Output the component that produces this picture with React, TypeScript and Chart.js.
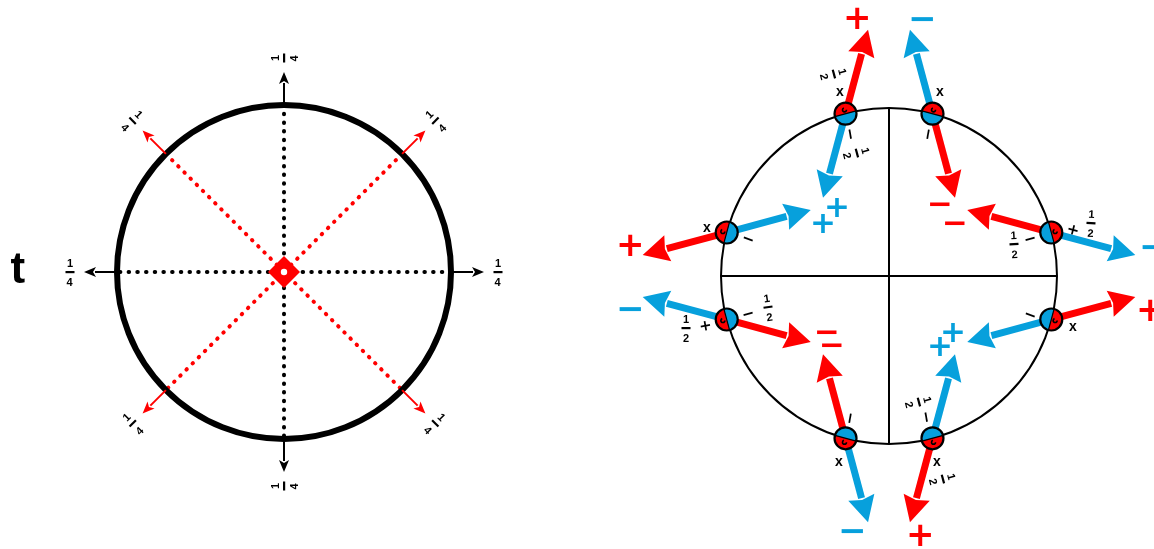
import { useEffect, useRef } from "react";
import { Chart, registerables } from "chart.js";

Chart.register(...registerables);

const CANVAS_W = 1154;
const CANVAS_H = 549;

// ---------------- Left panel data ----------------
const leftCenterX = 284;
const leftCenterY = 272;
const leftRadius = 167;
const leftDirections = [0, 45, 90, 135, 180, 225, 270, 315];
const leftIsDiagonal = [false, true, false, true, false, true, false, true];
const leftNumerators = ["1", "1", "1", "1", "1", "1", "1", "1"];
const leftDenominators = ["4", "4", "4", "4", "4", "4", "4", "4"];
const leftLabelTurns = [0, -45, -90, 45, 0, -45, -90, 45];
const leftArrowReach = 200;
const leftLabelReach = 214;
const panelLetter = "t";
const panelLetterPos = [18, 268];

// ---------------- Right panel data ----------------
const rightCenterX = 889;
const rightCenterY = 276;
const rightRadius = 168;
const spinAngles = [105, 75, 15, -15, -75, -105, 195, 165];
const redPointsOut = [true, false, false, true, true, false, false, true];
const spinArrowReach = 87;

// outer signs at the outward arrow tips
const outerSignText = ["+", "−", "−", "+", "+", "−", "−", "+"];
const outerSignColor = ["red", "blue", "blue", "red", "red", "blue", "blue", "red"];
const outerSignX = [857, 922, 1153, 1150, 920, 852, 630, 630];
const outerSignY = [18, 19, 247, 310, 535, 531, 309, 245];

// inner signs near the inward arrow tips
const innerSignText = ["+", "+", "+", "+", "−", "−", "−", "−"];
const innerSignColor = ["blue", "blue", "blue", "blue", "red", "red", "red", "red"];
const innerSignX = [837, 823, 953, 940, 940, 955, 827, 832];
const innerSignY = [207, 223, 332, 346, 204, 223, 332, 345];

// small black notations beside the spin circles
const noteText = ["x", "−", "x", "−", "+", "−", "−", "x", "−", "x", "−", "x", "+", "−", "x", "−"];
const noteX = [840, 850, 940, 928, 1073, 1030, 1030, 1073, 926, 937, 850, 839, 705, 748, 707, 748];
const noteY = [92, 134, 92, 134, 229, 239, 315, 327, 417, 462, 418, 462, 325, 314, 228, 239];
const noteTurn = [0, 80, 0, 100, 15, -15, 20, 0, 80, 0, 100, 0, -10, -15, 0, 20];

// one-half fractions beside the spin circles
const halfX = [834, 857, 1091, 1014, 919, 943, 686, 768];
const halfY = [74, 153, 223, 244, 402, 479, 328, 307];
const halfTurn = [75, 75, 3, -3, 75, 75, 0, -8];

const COLORS: Record<string, string> = {
  red: "#ff0000",
  blue: "#07a0dc",
  black: "#000000",
};

const rad = (d: number) => (d * Math.PI) / 180;

function drawCentered(
  ctx: CanvasRenderingContext2D,
  text: string,
  x: number,
  y: number,
  font: string,
  color: string,
  turnDeg = 0
) {
  ctx.save();
  ctx.translate(x, y);
  if (turnDeg) ctx.rotate(rad(turnDeg));
  ctx.font = font;
  ctx.fillStyle = color;
  ctx.textAlign = "left";
  ctx.textBaseline = "alphabetic";
  const m = ctx.measureText(text);
  const dx = -(m.actualBoundingBoxRight - m.actualBoundingBoxLeft) / 2;
  const dy = (m.actualBoundingBoxAscent - m.actualBoundingBoxDescent) / 2;
  ctx.fillText(text, dx, dy);
  ctx.restore();
}

function drawFraction(
  ctx: CanvasRenderingContext2D,
  num: string,
  den: string,
  x: number,
  y: number,
  turnDeg: number
) {
  ctx.save();
  ctx.translate(x, y);
  ctx.rotate(rad(turnDeg));
  const font = 'bold 11px "Liberation Sans", Arial, sans-serif';
  drawCentered(ctx, num, 0, -9, font, "#000");
  ctx.fillStyle = "#000";
  ctx.fillRect(-4.5, -1, 9, 2.2);
  drawCentered(ctx, den, 0, 10, font, "#000");
  ctx.restore();
}

function drawArrow(
  ctx: CanvasRenderingContext2D,
  x0: number,
  y0: number,
  x1: number,
  y1: number,
  color: string,
  shaft: number,
  headLen: number,
  headW: number
) {
  const ang = Math.atan2(y1 - y0, x1 - x0);
  const len = Math.hypot(x1 - x0, y1 - y0);
  ctx.save();
  ctx.translate(x0, y0);
  ctx.rotate(ang);
  ctx.fillStyle = color;
  ctx.fillRect(0, -shaft / 2, len - headLen + 1, shaft);
  ctx.beginPath();
  ctx.moveTo(len, 0);
  ctx.lineTo(len - headLen, -headW / 2);
  ctx.lineTo(len - headLen + 3, 0);
  ctx.lineTo(len - headLen, headW / 2);
  ctx.closePath();
  ctx.fill();
  ctx.restore();
}

// data point at a given angle (degrees, counter-clockwise) and distance from a centre
function polar(cx: number, cy: number, r: number, deg: number) {
  return { x: cx + r * Math.cos(rad(deg)), y: cy - r * Math.sin(rad(deg)) };
}

export default function App() {
  const canvasRef = useRef<HTMLCanvasElement | null>(null);

  useEffect(() => {
    const canvas = canvasRef.current;
    if (!canvas) return;

    const dotted = (deg: number, color: string) => ({
      type: "line" as const,
      data: [
        polar(leftCenterX, leftCenterY, leftRadius, deg),
        polar(leftCenterX, leftCenterY, leftRadius, deg + 180),
      ],
      borderColor: color,
      borderWidth: 4,
      borderDash: [0.5, 8.2],
      borderCapStyle: "round" as const,
      pointRadius: 0,
      showLine: true,
      fill: false,
    });

    const solid = (deg: number) => ({
      type: "line" as const,
      data: [
        polar(rightCenterX, rightCenterY, rightRadius, deg),
        polar(rightCenterX, rightCenterY, rightRadius, deg + 180),
      ],
      borderColor: "#000",
      borderWidth: 2,
      pointRadius: 0,
      showLine: true,
      fill: false,
    });

    const datasets: any[] = [];
    leftDirections.slice(0, 4).forEach((d, i) => {
      datasets.push(dotted(d, leftIsDiagonal[i] ? COLORS.red : COLORS.black));
    });
    datasets.push(solid(0));
    datasets.push(solid(90));

    const diagramPlugin = {
      id: "diagram",
      afterDatasetsDraw(chart: any) {
        const ctx: CanvasRenderingContext2D = chart.ctx;
        const xs = chart.scales.x;
        const ys = chart.scales.y;
        const px = (v: number) => xs.getPixelForValue(v);
        const py = (v: number) => ys.getPixelForValue(v);
        const plen = (v: number) => Math.abs(xs.getPixelForValue(v) - xs.getPixelForValue(0));

        // ===== Left panel =====
        ctx.save();
        ctx.beginPath();
        ctx.arc(px(leftCenterX), py(leftCenterY), plen(leftRadius), 0, Math.PI * 2);
        ctx.strokeStyle = "#000";
        ctx.lineWidth = 6;
        ctx.stroke();
        ctx.restore();

        leftDirections.forEach((deg, i) => {
          const s = polar(leftCenterX, leftCenterY, leftRadius, deg);
          const e = polar(leftCenterX, leftCenterY, leftArrowReach, deg);
          const color = leftIsDiagonal[i] ? COLORS.red : COLORS.black;
          drawArrow(ctx, px(s.x), py(s.y), px(e.x), py(e.y), color, 2, 12, 10);
          const l = polar(leftCenterX, leftCenterY, leftLabelReach, deg);
          drawFraction(ctx, leftNumerators[i], leftDenominators[i], px(l.x), py(l.y), leftLabelTurns[i]);
        });

        // centre diamond
        const cx = px(leftCenterX);
        const cy = py(leftCenterY);
        ctx.save();
        ctx.fillStyle = COLORS.red;
        ctx.beginPath();
        ctx.moveTo(cx - 16, cy);
        ctx.lineTo(cx, cy - 16);
        ctx.lineTo(cx + 16, cy);
        ctx.lineTo(cx, cy + 16);
        ctx.closePath();
        ctx.fill();
        ctx.fillStyle = "#fff";
        ctx.beginPath();
        ctx.arc(cx, cy, 3.2, 0, Math.PI * 2);
        ctx.fill();
        ctx.restore();

        drawCentered(
          ctx,
          panelLetter,
          px(panelLetterPos[0]),
          py(panelLetterPos[1]),
          'bold 44px "Liberation Sans", Arial, sans-serif',
          "#000"
        );

        // ===== Right panel =====
        ctx.save();
        ctx.beginPath();
        ctx.arc(px(rightCenterX), py(rightCenterY), plen(rightRadius), 0, Math.PI * 2);
        ctx.strokeStyle = "#000";
        ctx.lineWidth = 2;
        ctx.stroke();
        ctx.restore();

        const spinCentres = spinAngles.map((a) => polar(rightCenterX, rightCenterY, rightRadius, a));

        // arrows
        spinAngles.forEach((a, i) => {
          const c = spinCentres[i];
          let dx = Math.cos(rad(-a));
          let dy = Math.sin(rad(-a));
          const rx = Math.cos(rad(a));
          const ry = Math.sin(rad(a));
          if (dx * rx + dy * ry < 0) {
            dx = -dx;
            dy = -dy;
          }
          const outTip = { x: c.x + dx * spinArrowReach, y: c.y - dy * spinArrowReach };
          const inTip = { x: c.x - dx * spinArrowReach, y: c.y + dy * spinArrowReach };
          const redTip = redPointsOut[i] ? outTip : inTip;
          const blueTip = redPointsOut[i] ? inTip : outTip;
          drawArrow(ctx, px(c.x), py(c.y), px(redTip.x), py(redTip.y), COLORS.red, 7, 26, 27);
          drawArrow(ctx, px(c.x), py(c.y), px(blueTip.x), py(blueTip.y), COLORS.blue, 7, 26, 27);
        });

        // spin circles
        spinAngles.forEach((a, i) => {
          const c = spinCentres[i];
          const x = px(c.x);
          const y = py(c.y);
          const r = 11;
          const phi = rad(-a); // pixel-space outward angle
          ctx.save();
          ctx.fillStyle = COLORS.red;
          ctx.beginPath();
          ctx.arc(x, y, r, phi - Math.PI / 2, phi + Math.PI / 2);
          ctx.closePath();
          ctx.fill();
          ctx.fillStyle = COLORS.blue;
          ctx.beginPath();
          ctx.arc(x, y, r, phi + Math.PI / 2, phi + (3 * Math.PI) / 2);
          ctx.closePath();
          ctx.fill();
          ctx.strokeStyle = "#000";
          ctx.lineWidth = 1.2;
          ctx.beginPath();
          ctx.moveTo(x + r * Math.cos(phi - Math.PI / 2), y + r * Math.sin(phi - Math.PI / 2));
          ctx.lineTo(x + r * Math.cos(phi + Math.PI / 2), y + r * Math.sin(phi + Math.PI / 2));
          ctx.stroke();
          ctx.lineWidth = 2.2;
          ctx.beginPath();
          ctx.arc(x, y, r, 0, Math.PI * 2);
          ctx.stroke();
          // tiny black mark inside
          ctx.lineWidth = 1.6;
          ctx.beginPath();
          ctx.arc(x + 4 * Math.cos(phi), y + 4 * Math.sin(phi), 2, 0, Math.PI * 1.4);
          ctx.stroke();
          ctx.restore();
        });

        // signs
        const bigSignFont = 'bold 34px "DejaVu Sans", sans-serif';
        outerSignText.forEach((t, i) => {
          drawCentered(ctx, t, px(outerSignX[i]), py(outerSignY[i]), bigSignFont, COLORS[outerSignColor[i]]);
        });
        const innerSignFont = 'bold 31px "DejaVu Sans", sans-serif';
        innerSignText.forEach((t, i) => {
          drawCentered(ctx, t, px(innerSignX[i]), py(innerSignY[i]), innerSignFont, COLORS[innerSignColor[i]]);
        });

        // notations
        noteText.forEach((t, i) => {
          const font =
            t === "x"
              ? 'bold 14px "Liberation Sans", Arial, sans-serif'
              : 'bold 15px "DejaVu Sans", sans-serif';
          drawCentered(ctx, t, px(noteX[i]), py(noteY[i]), font, "#000", noteTurn[i]);
        });
        halfX.forEach((x, i) => {
          drawFraction(ctx, "1", "2", px(x), py(halfY[i]), halfTurn[i]);
        });
      },
    };

    const chart = new Chart(canvas, {
      type: "scatter",
      data: { datasets },
      options: {
        animation: false,
        responsive: false,
        events: [],
        layout: { padding: 0 },
        plugins: {
          legend: { display: false },
          tooltip: { enabled: false },
          title: { display: false },
        },
        scales: {
          x: { type: "linear", min: 0, max: CANVAS_W, display: false },
          y: { type: "linear", min: 0, max: CANVAS_H, reverse: true, display: false },
        },
      },
      plugins: [diagramPlugin],
    });

    return () => chart.destroy();
  }, []);

  return (
    <div style={{ position: "absolute", left: 0, top: 0, width: CANVAS_W, height: CANVAS_H, background: "#fff" }}>
      <canvas ref={canvasRef} width={CANVAS_W} height={CANVAS_H} style={{ display: "block" }} />
    </div>
  );
}
